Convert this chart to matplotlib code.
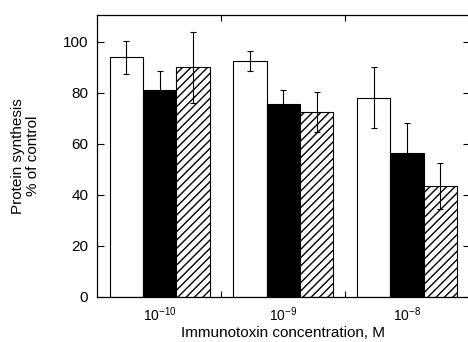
import matplotlib.pyplot as plt
import numpy as np
from matplotlib.ticker import FixedLocator

plt.rcParams["font.family"] = ["Liberation Sans", "DejaVu Sans"]
plt.rcParams["mathtext.default"] = "regular"
plt.rcParams["hatch.linewidth"] = 1.0

concentrations = ["$10^{-10}$", "$10^{-9}$", "$10^{-8}$"]
white_vals = [94, 92.5, 78]
white_err = [6.5, 4, 12]
black_vals = [81, 75.5, 56.5]
black_err = [7.5, 5.5, 11.7]
hatched_vals = [90, 72.5, 43.5]
hatched_err = [14, 7.7, 9]

fig = plt.figure(figsize=(4.68, 3.42), dpi=100)
ax = fig.add_axes([0.2066, 0.1325, 0.7977, 0.8235])

x = np.arange(len(concentrations))
w = 0.269
err_kw = dict(ecolor="black", elinewidth=0.8, capsize=2, capthick=0.8)

ax.bar(x - w, white_vals, w, yerr=white_err, color="white",
       edgecolor="black", linewidth=0.8, error_kw=err_kw)
ax.bar(x, black_vals, w, yerr=black_err, color="black",
       edgecolor="black", linewidth=0.8, error_kw=err_kw)
ax.bar(x + w, hatched_vals, w, yerr=hatched_err, color="white",
       edgecolor="black", linewidth=0.8, hatch="////", error_kw=err_kw)

ax.set_xlim(-0.508, 2.508)
ax.set_ylim(0, 110.5)
ax.set_yticks([0, 20, 40, 60, 80, 100])
ax.set_xticks(x)
ax.set_xticklabels(concentrations, fontsize=10)
ax.xaxis.set_minor_locator(FixedLocator([0.5, 1.5]))

ax.tick_params(axis="y", which="major", direction="in", length=5, width=0.8,
               right=True, labelsize=11, pad=6)
ax.tick_params(axis="x", which="major", length=0, pad=6)
ax.tick_params(axis="x", which="minor", direction="in", length=4, width=0.8,
               top=True, bottom=True)

for s in ax.spines.values():
    s.set_linewidth(0.9)

ax.set_xlabel("Immunotoxin concentration, M", fontsize=11, labelpad=2)
fig.text(0.055, 0.543, "Protein synthesis\n% of control", rotation=90,
         ha="center", va="center", multialignment="center",
         fontsize=11, linespacing=1.05)

fig.savefig("out.png", dpi=100)
